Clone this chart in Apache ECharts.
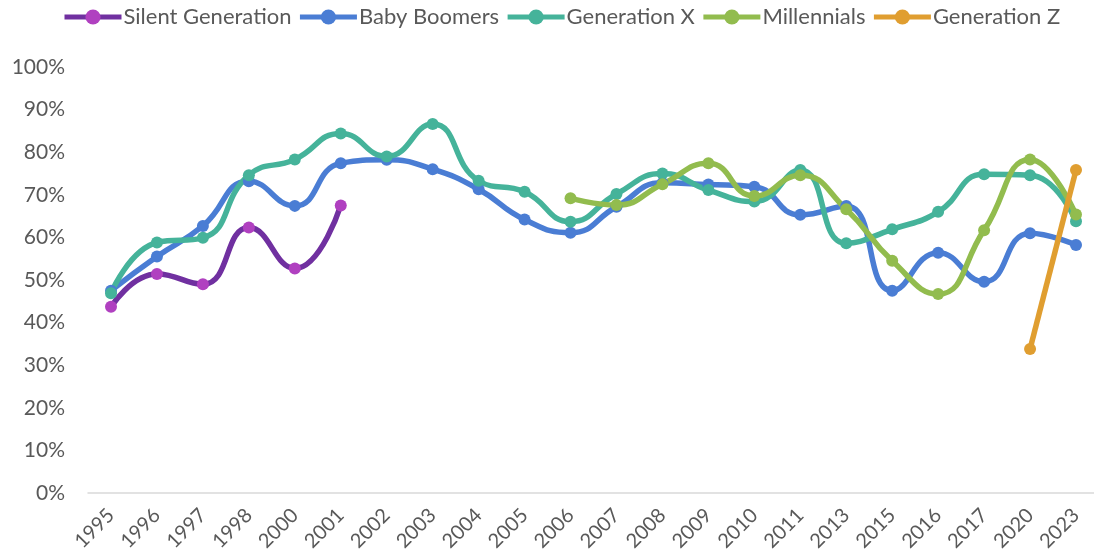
<!DOCTYPE html>
<html><head><meta charset="utf-8">
<script src="https://cdn.jsdelivr.net/npm/echarts@6/dist/echarts.min.js"></script>
<style>html,body{margin:0;padding:0;background:#fff}#c{width:1094px;height:560px}</style>
</head><body><div id="c"></div>
<script>
const categories = ['1995','1996','1997','1998','2000','2001','2002','2003','2004','2005','2006','2007','2008','2009','2010','2011','2013','2015','2016','2017','2020','2023'];
const silentGen = [43.7,51.4,49.0,62.3,52.7,67.5,null,null,null,null,null,null,null,null,null,null,null,null,null,null,null,null];
const babyBoomers = [47.5,55.5,62.7,73.2,67.4,77.4,78.2,76.0,71.3,64.2,61.1,67.2,72.8,72.4,71.9,65.3,67.4,47.5,56.4,49.6,61.0,58.2];
const genX = [46.9,58.8,59.9,74.6,78.3,84.4,79.0,86.6,73.3,70.7,63.7,70.2,75.0,71.1,68.4,75.8,58.6,61.9,66.0,74.8,74.6,63.8];
const millennials = [null,null,null,null,null,null,null,null,null,null,69.2,67.6,72.5,77.4,69.7,74.6,66.6,54.5,46.7,61.7,78.3,65.4];
const genZ = [null,null,null,null,null,null,null,null,null,null,null,null,null,null,null,null,null,null,null,null,33.8,75.8];
const yTicks = [0,10,20,30,40,50,60,70,80,90,100];

const FONT = 'Lato';
function mk(name, data, lineColor, dotColor, smooth) {
  return {
    name, type: 'line', data, smooth: smooth ? 0.5 : false,
    connectNulls: false, symbol: 'circle', symbolSize: 12,
    lineStyle: { width: 5.5, color: lineColor },
    itemStyle: { color: dotColor, borderWidth: 0 },
    emphasis: { disabled: true }
  };
}
const chart = echarts.init(document.getElementById('c'), null, { renderer: 'canvas' });
chart.setOption({
  animation: false,
  legend: {
    top: 1, left: 57, itemWidth: 57, itemHeight: 19, itemGap: 6,
    lineStyle: { width: 5 },
    textStyle: { fontFamily: FONT, fontSize: 22, color: '#595959', padding: [0, 0, 0, -3] },
    data: ['Silent Generation','Baby Boomers','Generation X','Millennials','Generation Z']
  },
  grid: [
    { left: 111, right: 18, top: 67, height: 426, containLabel: false },
    { left: 88, right: 0, top: 67, height: 426, containLabel: false }
  ],
  xAxis: [
    {
      type: 'category', data: categories, boundaryGap: false, gridIndex: 0,
      axisLine: { show: false },
      axisTick: { show: false },
      axisLabel: { rotate: 45, fontFamily: FONT, fontSize: 20, color: '#595959', margin: 19, interval: 0 }
    },
    {
      type: 'category', data: categories, boundaryGap: true, gridIndex: 1,
      axisLine: { lineStyle: { color: '#d9d9d9', width: 1.5 } },
      axisTick: { show: false }, axisLabel: { show: false }
    }
  ],
  yAxis: [
    {
      type: 'value', min: 0, max: 100, interval: 10, gridIndex: 0,
      axisLabel: { formatter: v => v + '%', fontFamily: FONT, fontSize: 21, color: '#595959', margin: 46 },
      splitLine: { show: false }, axisLine: { show: false }, axisTick: { show: false }
    },
    {
      type: 'value', min: 0, max: 100, interval: 10, gridIndex: 1, show: false
    }
  ],
  series: [
    mk('Silent Generation', silentGen, '#7030A0', '#B040C0', true),
    mk('Baby Boomers', babyBoomers, '#4A7DD4', '#4A7DD4', true),
    mk('Generation X', genX, '#45B39A', '#45B39A', true),
    mk('Millennials', millennials, '#92BC4E', '#92BC4E', true),
    mk('Generation Z', genZ, '#E09E30', '#E09E30', false)
  ]
});
</script></body></html>
